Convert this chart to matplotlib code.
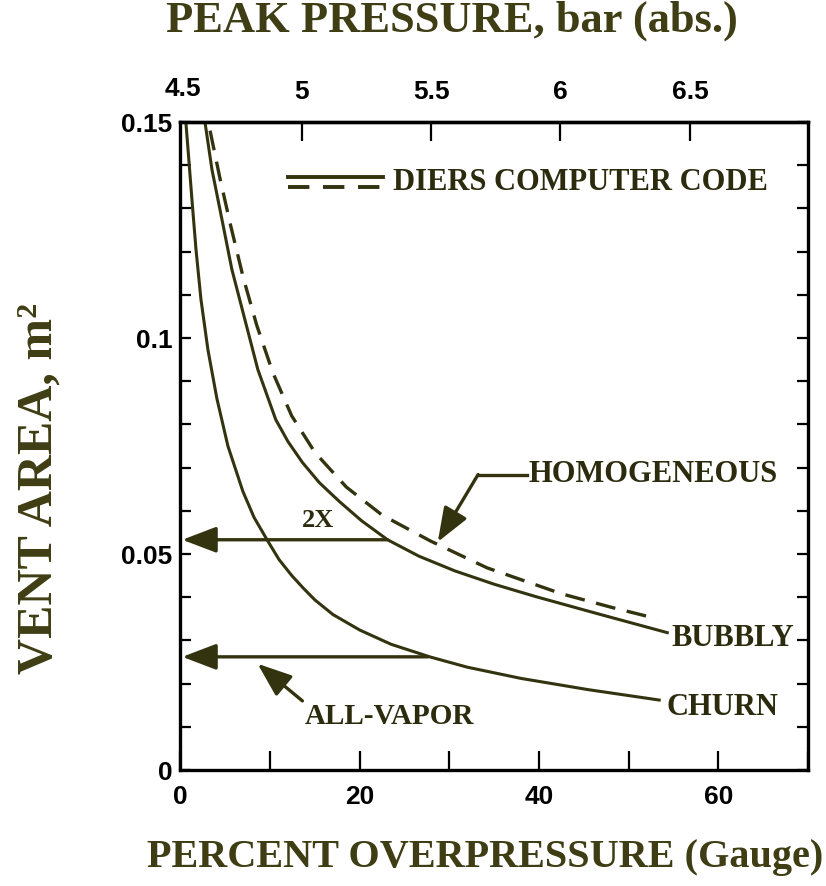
import numpy as np
import matplotlib.pyplot as plt

# Datos
churn_x = [0.6, 0.84, 1.28, 1.73, 2.28, 3.06, 4.06, 5.29, 6.96, 8.2, 9.74, 11.0, 12.42,
           13.7, 14.98, 17.0, 20.0, 23.5, 27.8, 32.0, 38.0, 45.5, 53.4]
churn_y = [0.150, 0.1437, 0.132, 0.1205, 0.109, 0.0973, 0.0860, 0.0750, 0.0645, 0.0585,
           0.053, 0.0487, 0.045, 0.0421, 0.0394, 0.0360, 0.0324, 0.0291, 0.0262, 0.0238,
           0.0212, 0.0186, 0.0162]

bubbly_x = [2.73, 3.51, 4.62, 5.73, 7.18, 8.63, 10.63, 12.0, 13.6, 15.5, 17.7, 20.2,
            23.1, 26.6, 30.6, 35.0, 39.7, 46.5, 54.3]
bubbly_y = [0.150, 0.139, 0.1275, 0.1159, 0.1043, 0.0927, 0.0811, 0.0760, 0.0712, 0.0665,
            0.0622, 0.0577, 0.0533, 0.0495, 0.0461, 0.0430, 0.0401, 0.0362, 0.0318]

homog_x = [3.3, 4.4, 5.6, 7.0, 8.5, 10.3, 12.4, 15.0, 18.5, 22.5, 27.9, 34.2, 42.5,
           48.0, 53.2]
homog_y = [0.148, 0.137, 0.126, 0.114, 0.103, 0.092, 0.082, 0.0735, 0.0655, 0.0590, 0.053,
           0.0468, 0.0408, 0.0377, 0.035]

arrow_2x = (23.1, 0.0533)
arrow_vapor = (27.6, 0.0262)

x_ticks = [0, 20, 40, 60]
y_ticks = [0, 0.05, 0.1, 0.15]
y_labels = ['0', '0.05', '0.1', '0.15']
p_ticks = [5, 5.5, 6, 6.5]
p_labels = ['5', '5.5', '6', '6.5']

# presion absoluta (bar) en funcion del % de sobrepresion
def a_presion(x):
    return 4.532 + 0.03463 * np.asarray(x)

def a_porcentaje(p):
    return (np.asarray(p) - 4.532) / 0.03463

col = '#34330f'
txt = '#2c2b0e'
lab = '#3e3d14'
serif = 'Liberation Serif'
sans = 'Liberation Sans'
flecha = '-|>,head_length=2.1,head_width=0.8'

fig = plt.figure(figsize=(8.26, 8.86), dpi=100)
ax = fig.add_axes([0.2185, 0.1309, 0.7597, 0.7314])

ax.plot(churn_x, churn_y, color=col, lw=2.2, solid_joinstyle='round')
ax.plot(bubbly_x, bubbly_y, color=col, lw=2.2, solid_joinstyle='round')
ax.plot(homog_x, homog_y, color=col, lw=2.4, dashes=(6, 3.5))

# flechas horizontales
for (xa, ya) in [arrow_2x, arrow_vapor]:
    ax.annotate('', xy=(0.2, ya), xytext=(xa, ya),
                arrowprops=dict(arrowstyle=flecha, color=col, lw=2.4,
                                shrinkA=0, shrinkB=0))

ax.text(15.3, 0.0578, '2X', family=serif, weight='bold', fontsize=19,
        color=txt, ha='center', va='center')

# HOMOGENEOUS
ax.plot([38.6, 33.2], [0.0684, 0.0684], color=col, lw=2.4)
ax.annotate('', xy=(28.7, 0.0528), xytext=(33.2, 0.0684),
            arrowprops=dict(arrowstyle=flecha, color=col, lw=2.4,
                            shrinkA=0, shrinkB=0))
ax.text(38.8, 0.0684, 'HOMOGENEOUS', family=serif, weight='bold', fontsize=22,
        color=txt, ha='left', va='center')

# ALL-VAPOR
ax.annotate('', xy=(8.6, 0.0246), xytext=(13.6, 0.0160),
            arrowprops=dict(arrowstyle=flecha, color=col, lw=2.4,
                            shrinkA=0, shrinkB=0))
ax.text(13.9, 0.0123, 'ALL-VAPOR', family=serif, weight='bold', fontsize=21,
        color=txt, ha='left', va='center')

ax.text(54.8, 0.0305, 'BUBBLY', family=serif, weight='bold', fontsize=22,
        color=txt, ha='left', va='center')
ax.text(54.2, 0.0145, 'CHURN', family=serif, weight='bold', fontsize=22,
        color=txt, ha='left', va='center')

# leyenda a mano
ax.plot([12.0, 22.6], [0.1373, 0.1373], color=col, lw=2.8)
ax.plot([12.0, 22.6], [0.1349, 0.1349], color=col, lw=2.8, dashes=(5.5, 3.5))
ax.text(23.7, 0.1361, 'DIERS COMPUTER CODE', family=serif, weight='bold',
        fontsize=22, color=txt, ha='left', va='center')

ax.set_xlim(0, 70)
ax.set_ylim(0, 0.15)
ax.set_xticks(x_ticks)
ax.set_xticks(np.arange(0, 71, 10), minor=True)
ax.set_xticklabels([str(v) for v in x_ticks])
ax.set_yticks(y_ticks)
ax.set_yticklabels(y_labels)
ax.set_yticks(np.arange(0, 0.151, 0.01), minor=True)

for s in ax.spines.values():
    s.set_linewidth(2.4)
ax.tick_params(axis='x', which='both', direction='in', length=14, width=1.6,
               top=False, labelsize=19, pad=11)
ax.tick_params(axis='y', which='both', direction='in', length=8, width=1.6,
               right=True, labelsize=19, pad=6)
for t in ax.get_xticklabels() + ax.get_yticklabels():
    t.set_family(sans)
    t.set_weight('bold')

top = ax.secondary_xaxis('top', functions=(a_presion, a_porcentaje))
top.set_xticks(p_ticks)
top.set_xticklabels(p_labels)
top.tick_params(direction='in', length=14, width=1.6, labelsize=19, pad=13)
for t in top.get_xticklabels():
    t.set_family(sans)
    t.set_weight('bold')
top.spines['top'].set_linewidth(2.4)
fig.text(183 / 826, 1 - 89 / 886, '4.5', family=sans, weight='bold', fontsize=19,
         ha='center', va='center')

fig.text(452 / 826, 1 - 21 / 886, 'PEAK PRESSURE, bar (abs.)', family=serif,
         weight='bold', fontsize=32, color=lab, ha='center', va='center')
fig.text(485 / 826, 1 - 857 / 886, 'PERCENT OVERPRESSURE (Gauge)', family=serif,
         weight='bold', fontsize=29, color=lab, ha='center', va='center')
fig.text(40 / 826, 1 - 488 / 886, 'VENT AREA, m²', family=serif,
         weight='bold', fontsize=36, color=lab, ha='center', va='center',
         rotation=90)

fig.savefig('out.png', dpi=100)
